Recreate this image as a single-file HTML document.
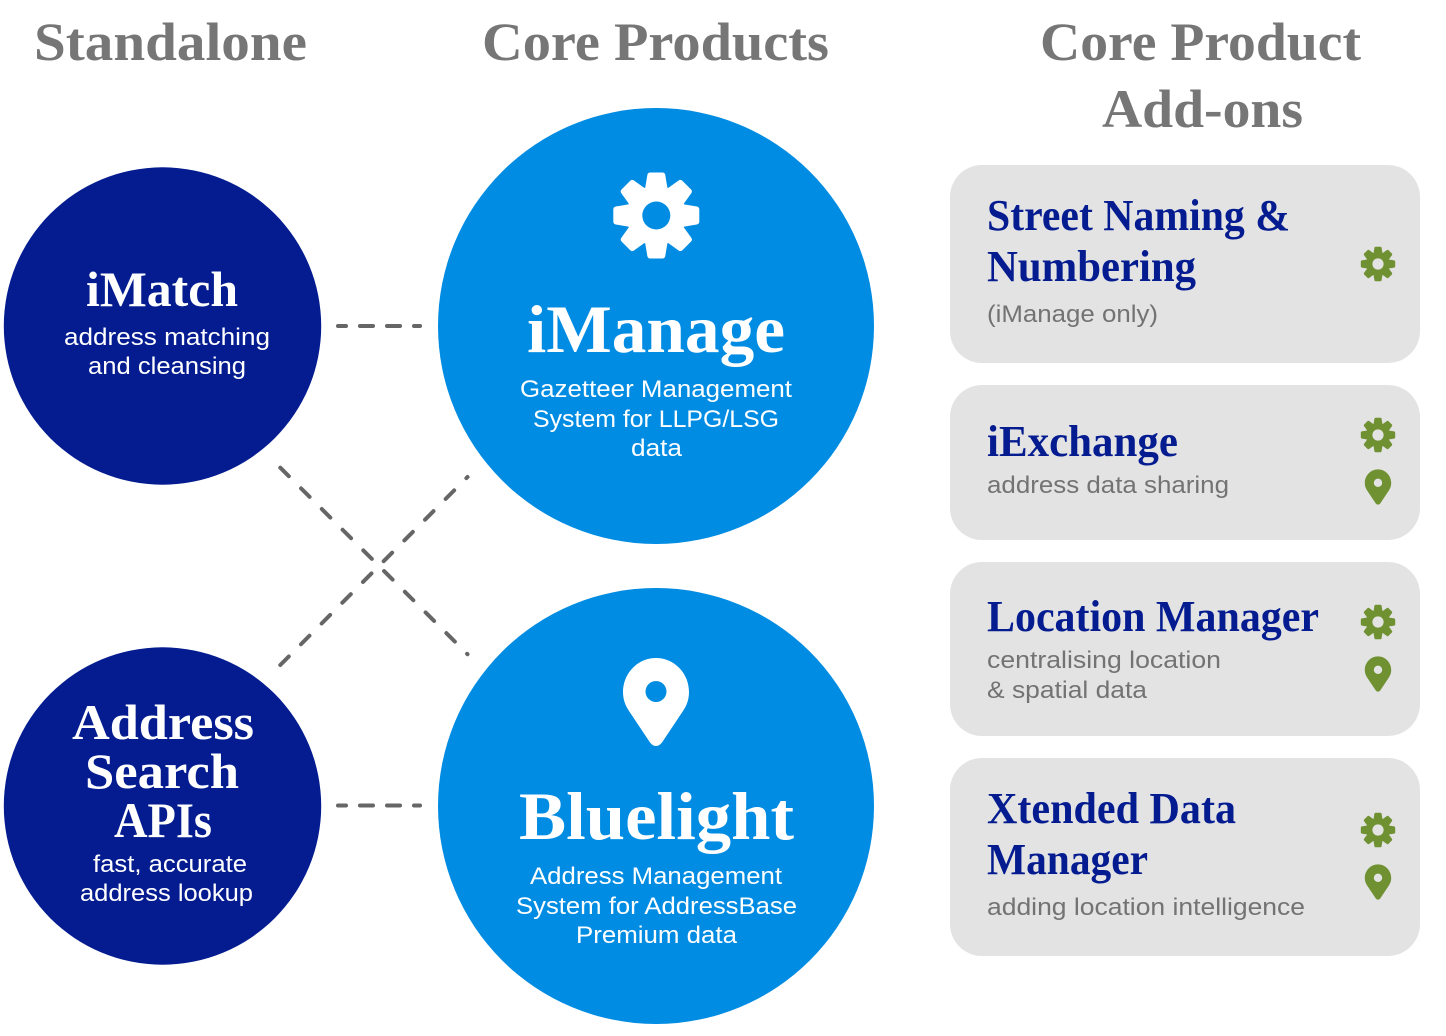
<!DOCTYPE html>
<html>
<head>
<meta charset="utf-8">
<style>
html,body{margin:0;padding:0;background:#fff;width:1446px;height:1036px;overflow:hidden}
svg{display:block}
.s{font-family:"Liberation Serif",serif;font-weight:700}
.a{font-family:"Liberation Sans",sans-serif;font-weight:400}
</style>
</head>
<body>
<svg width="1446" height="1036" viewBox="0 0 1446 1036" xmlns="http://www.w3.org/2000/svg">
<defs>
<g id="gear">
  <g fill="currentColor" stroke="currentColor" stroke-linejoin="round">
    <circle r="30" stroke="none"/>
    <polygon id="t" stroke-width="6" points="-6,-40 6,-40 8,-28 -8,-28"/>
    <use href="#t" transform="rotate(45)"/><use href="#t" transform="rotate(90)"/><use href="#t" transform="rotate(135)"/>
    <use href="#t" transform="rotate(180)"/><use href="#t" transform="rotate(225)"/><use href="#t" transform="rotate(270)"/><use href="#t" transform="rotate(315)"/>
  </g>
</g>
<path id="pin" fill-rule="evenodd" d="M0 44 C-3 44 -5 42 -7 39 L-27 9 C-31 3 -33 -3 -33 -10 C-33 -29 -18 -44 0 -44 C18 -44 33 -29 33 -10 C33 -3 31 3 27 9 L7 39 C5 42 3 44 0 44 Z M0 -21 A10.500 10.500 0 1 0 0 0 A10.500 10.500 0 1 0 0 -21 Z"/>
</defs>

<rect width="1446" height="1036" fill="#fff"/>

<!-- headers -->
<g class="s" fill="#767676" font-size="54">
<text x="34" y="60" textLength="273" lengthAdjust="spacingAndGlyphs">Standalone</text>
<text x="482" y="60" textLength="347" lengthAdjust="spacingAndGlyphs">Core Products</text>
<text x="1040" y="60" textLength="321" lengthAdjust="spacingAndGlyphs">Core Product</text>
<text x="1102" y="127" textLength="201" lengthAdjust="spacingAndGlyphs">Add-ons</text>
</g>

<!-- connectors -->
<g fill="none" stroke="#666" stroke-width="4" stroke-linecap="round">
<path d="M338 326H420" stroke-dasharray="13 14" stroke-dashoffset="5"/>
<path d="M338 805.500H420" stroke-dasharray="13 14" stroke-dashoffset="5"/>
<path d="M280.300 467.700L467.500 654.200" stroke-dasharray="12 17.300"/>
<path d="M280.300 665L467.500 477" stroke-dasharray="12 17.300"/>
</g>

<!-- circles -->
<circle cx="162.500" cy="326" r="158.700" fill="#041c90"/>
<circle cx="162.500" cy="806" r="158.700" fill="#041c90"/>
<circle cx="656" cy="326" r="218" fill="#008ce3"/>
<circle cx="656" cy="806" r="218" fill="#008ce3"/>

<!-- icons in circles -->
<g color="#fff" transform="translate(656.300 215.500)"><use href="#gear"/><circle r="14" fill="#008ce3"/></g>
<use href="#pin" transform="translate(656 702)" fill="#fff"/>

<!-- circle text -->
<g class="s" fill="#fff">
<text x="86" y="306" font-size="50" textLength="152" lengthAdjust="spacingAndGlyphs">iMatch</text>
<text x="72" y="739" font-size="50" textLength="182" lengthAdjust="spacingAndGlyphs">Address</text>
<text x="85" y="788" font-size="50" textLength="154" lengthAdjust="spacingAndGlyphs">Search</text>
<text x="114" y="837" font-size="50" textLength="98" lengthAdjust="spacingAndGlyphs">APIs</text>
<text x="527" y="352" font-size="68" textLength="258" lengthAdjust="spacingAndGlyphs">iManage</text>
<text x="519" y="839" font-size="68" textLength="275" lengthAdjust="spacingAndGlyphs">Bluelight</text>
</g>
<g class="a" fill="#fff" font-size="24">
<text x="64" y="345" textLength="206" lengthAdjust="spacingAndGlyphs">address matching</text>
<text x="88" y="374" textLength="158" lengthAdjust="spacingAndGlyphs">and cleansing</text>
<text x="93" y="872" textLength="154" lengthAdjust="spacingAndGlyphs">fast, accurate</text>
<text x="80" y="901" textLength="173" lengthAdjust="spacingAndGlyphs">address lookup</text>
<text x="520" y="397" textLength="272" lengthAdjust="spacingAndGlyphs">Gazetteer Management</text>
<text x="533" y="427" textLength="246" lengthAdjust="spacingAndGlyphs">System for LLPG/LSG</text>
<text x="631" y="456" textLength="51" lengthAdjust="spacingAndGlyphs">data</text>
<text x="530" y="884" textLength="252" lengthAdjust="spacingAndGlyphs">Address Management</text>
<text x="516" y="914" textLength="281" lengthAdjust="spacingAndGlyphs">System for AddressBase</text>
<text x="576" y="943" textLength="161" lengthAdjust="spacingAndGlyphs">Premium data</text>
</g>

<!-- cards -->
<g fill="#e3e3e3">
<rect x="950" y="165" width="470" height="198" rx="32"/>
<rect x="950" y="385" width="470" height="155" rx="32"/>
<rect x="950" y="562" width="470" height="174" rx="32"/>
<rect x="950" y="758" width="470" height="198" rx="32"/>
</g>

<g class="s" fill="#041c90" font-size="44">
<text x="987" y="230" textLength="303" lengthAdjust="spacingAndGlyphs">Street Naming &amp;</text>
<text x="987" y="281" textLength="209" lengthAdjust="spacingAndGlyphs">Numbering</text>
<text x="987" y="456" textLength="191" lengthAdjust="spacingAndGlyphs">iExchange</text>
<text x="987" y="631" textLength="332" lengthAdjust="spacingAndGlyphs">Location Manager</text>
<text x="987" y="823" textLength="249" lengthAdjust="spacingAndGlyphs">Xtended Data</text>
<text x="987" y="874" textLength="161" lengthAdjust="spacingAndGlyphs">Manager</text>
</g>
<g class="a" fill="#737373" font-size="24">
<text x="987" y="322" textLength="171" lengthAdjust="spacingAndGlyphs">(iManage only)</text>
<text x="987" y="493" textLength="242" lengthAdjust="spacingAndGlyphs">address data sharing</text>
<text x="987" y="668" textLength="234" lengthAdjust="spacingAndGlyphs">centralising location</text>
<text x="987" y="698" textLength="160" lengthAdjust="spacingAndGlyphs">&amp; spatial data</text>
<text x="987" y="915" textLength="318" lengthAdjust="spacingAndGlyphs">adding location intelligence</text>
</g>

<!-- green icons -->
<g color="#6f9132" fill="#6f9132">
<g transform="translate(1378 264) scale(.4)"><use href="#gear"/><circle r="14" fill="#e3e3e3"/></g>
<g transform="translate(1378 435) scale(.4)"><use href="#gear"/><circle r="14" fill="#e3e3e3"/></g>
<use href="#pin" transform="translate(1378 487) scale(.4)"/>
<g transform="translate(1378 622) scale(.4)"><use href="#gear"/><circle r="14" fill="#e3e3e3"/></g>
<use href="#pin" transform="translate(1378 674) scale(.4)"/>
<g transform="translate(1378 830) scale(.4)"><use href="#gear"/><circle r="14" fill="#e3e3e3"/></g>
<use href="#pin" transform="translate(1378 882) scale(.4)"/>
</g>
</svg>
</body>
</html>
